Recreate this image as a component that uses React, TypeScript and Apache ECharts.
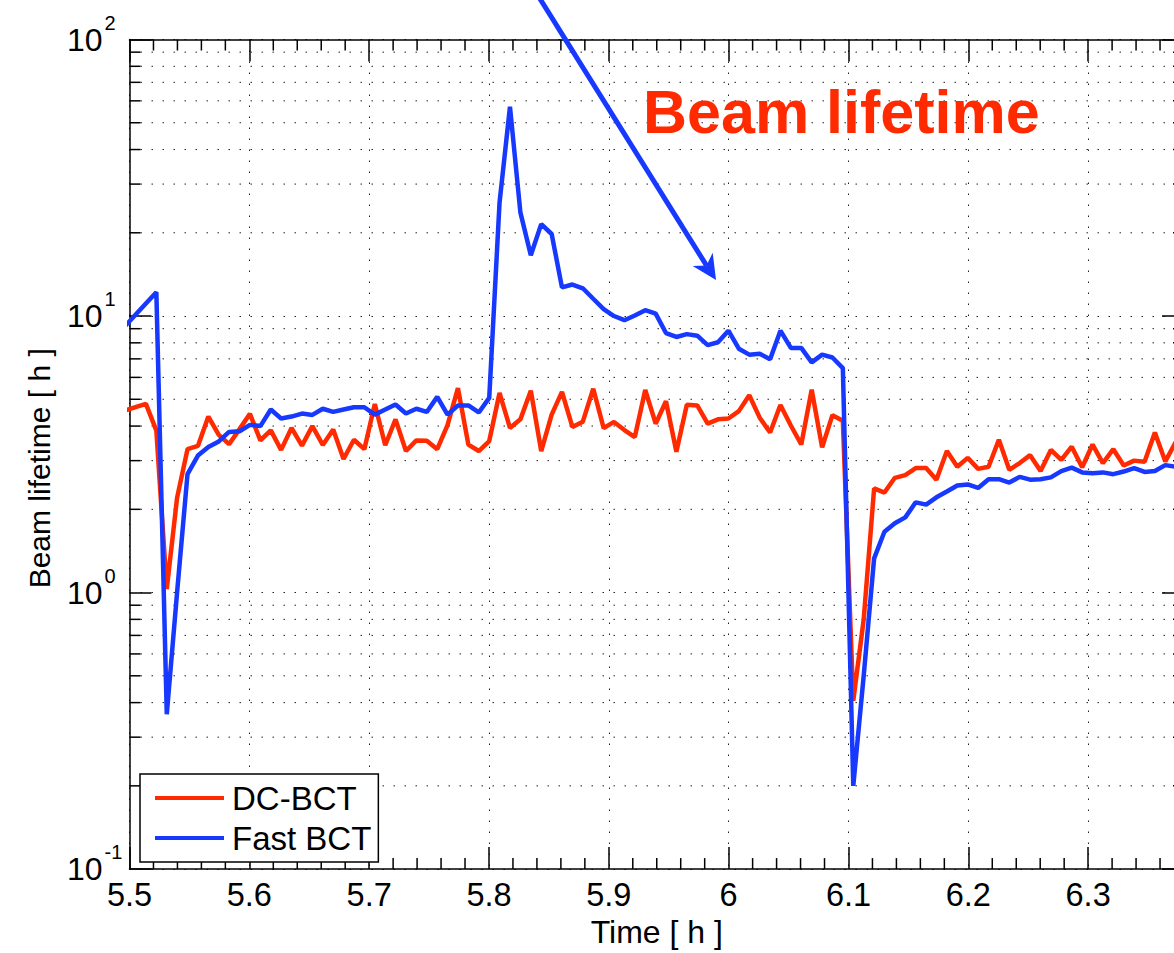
import React, { useEffect, useRef } from "react";
import * as echarts from "echarts";

// Sample times [h]
const times = [
  5.4963, 5.5050, 5.5137, 5.5224, 5.5311, 5.5397, 5.5484, 5.5571, 5.5658, 5.5745,
  5.5831, 5.5918, 5.6005, 5.6092, 5.6179, 5.6265, 5.6352, 5.6439, 5.6526, 5.6613,
  5.6700, 5.6786, 5.6873, 5.6960, 5.7047, 5.7134, 5.7220, 5.7307, 5.7394, 5.7481,
  5.7568, 5.7654, 5.7741, 5.7828, 5.7915, 5.8002, 5.8088, 5.8175, 5.8262, 5.8349,
  5.8436, 5.8523, 5.8609, 5.8696, 5.8783, 5.8870, 5.8957, 5.9043, 5.9130, 5.9217,
  5.9304, 5.9391, 5.9477, 5.9564, 5.9651, 5.9738, 5.9825, 5.9911, 5.9998, 6.0085,
  6.0172, 6.0259, 6.0346, 6.0432, 6.0519, 6.0606, 6.0693, 6.0780, 6.0866, 6.0953,
  6.1040, 6.1127, 6.1214, 6.1300, 6.1387, 6.1474, 6.1561, 6.1648, 6.1734, 6.1821,
  6.1908, 6.1995, 6.2082, 6.2169, 6.2255, 6.2342, 6.2429, 6.2516, 6.2603, 6.2689,
  6.2776, 6.2863, 6.2950, 6.3037, 6.3123, 6.3210, 6.3297, 6.3384, 6.3471, 6.3557,
  6.3644, 6.3731,
];

// DC-BCT beam lifetime [h]
const dcBct = [
  4.55, 4.68, 4.81, 3.85, 1.03, 2.2, 3.3, 3.39, 4.33, 3.72,
  3.44, 3.9, 4.43, 3.55, 3.86, 3.28, 3.94, 3.4, 4.0, 3.42,
  3.89, 3.04, 3.57, 3.3, 4.81, 3.41, 4.23, 3.25, 3.55, 3.54,
  3.3, 4.03, 5.49, 3.43, 3.25, 3.53, 5.27, 3.94, 4.23, 5.37,
  3.25, 4.4, 5.32, 3.97, 4.15, 5.46, 3.93, 4.14, 3.87, 3.65,
  5.4, 4.08, 4.92, 3.23, 4.78, 4.75, 4.08, 4.23, 4.26, 4.53,
  5.17, 4.29, 3.79, 4.77, 4.02, 3.43, 5.42, 3.35, 4.38, 4.18,
  0.406, 0.8, 2.38, 2.3, 2.6, 2.66, 2.82, 2.82, 2.56, 3.25,
  2.85, 3.07, 2.8, 2.85, 3.57, 2.78, 2.94, 3.14, 2.75, 3.28,
  3.02, 3.37, 2.84, 3.43, 2.94, 3.3, 2.88, 3.0, 2.97, 3.79,
  2.98, 3.5,
];

// Fast BCT beam lifetime [h]
const fastBct = [
  9.2, 10.1, 11.1, 12.2, 0.363, 1.0, 2.68, 3.13, 3.36, 3.52,
  3.81, 3.83, 4.04, 4.0, 4.59, 4.26, 4.33, 4.44, 4.39, 4.62,
  4.5, 4.59, 4.68, 4.68, 4.4, 4.59, 4.79, 4.44, 4.62, 4.5,
  5.1, 4.4, 4.75, 4.75, 4.48, 5.06, 25.7, 57.1, 23.7, 16.6,
  21.5, 19.8, 12.7, 13.0, 12.6, 11.55, 10.6, 10.0, 9.66, 10.05,
  10.5, 10.2, 8.68, 8.4, 8.6, 8.49, 7.85, 8.04, 8.85, 7.62,
  7.25, 7.3, 6.98, 8.85, 7.67, 7.67, 6.8, 7.25, 7.08, 6.48,
  0.2, 0.5, 1.33, 1.66, 1.78, 1.87, 2.12, 2.08, 2.21, 2.32,
  2.44, 2.46, 2.39, 2.57, 2.57, 2.5, 2.62, 2.56, 2.57, 2.61,
  2.75, 2.83, 2.72, 2.7, 2.72, 2.68, 2.74, 2.82, 2.73, 2.75,
  2.89, 2.85,
];

const seriesNames = ["DC-BCT", "Fast BCT"];

// Minor tick values
const xMinorTicks = [
  5.52, 5.54, 5.56, 5.58, 5.62, 5.64, 5.66, 5.68, 5.72, 5.74, 5.76, 5.78,
  5.82, 5.84, 5.86, 5.88, 5.92, 5.94, 5.96, 5.98, 6.02, 6.04, 6.06, 6.08,
  6.12, 6.14, 6.16, 6.18, 6.22, 6.24, 6.26, 6.28, 6.32, 6.34, 6.36,
];
const yMinorTicks = [
  0.2, 0.3, 0.4, 0.5, 0.6, 0.7, 0.8, 0.9,
  2, 3, 4, 5, 6, 7, 8, 9,
  20, 30, 40, 50, 60, 70, 80, 90,
];

const X_MIN = 5.5;
const X_MAX = 6.38;
const Y_MIN = 0.1;
const Y_MAX = 100;

const FONT = '"Liberation Sans", Arial, Helvetica, sans-serif';
const RED = "#ff2a00";
const BLUE = "#1638ff";
const GRID = "#222";

export default function App() {
  const ref = useRef<HTMLDivElement>(null);

  useEffect(() => {
    if (!ref.current) return;
    const chart = echarts.init(ref.current, null, { renderer: "svg" });

    const yLabel = (v: number) => {
      const e = Math.round(Math.log10(v));
      return `{b|10}{s|${e}}`;
    };

    const option: any = {
      animation: false,
      backgroundColor: "#fff",
      grid: { left: 129.5, top: 39.5, width: 1054.5, height: 835, containLabel: false },
      legend: {
        data: seriesNames,
        orient: "vertical",
        left: 140,
        top: 774,
        padding: [6, 7, 6, 15],
        itemGap: 4,
        itemWidth: 69,
        itemHeight: 4,
        icon: "rect",
        borderColor: "#000",
        borderWidth: 1.5,
        backgroundColor: "#fff",
        textStyle: { fontSize: 33, lineHeight: 36, fontFamily: FONT, color: "#000", padding: [0, 0, 0, 3] },
        z: 10,
      },
      xAxis: [
        {
          type: "value",
          min: X_MIN,
          max: X_MAX,
          interval: 0.1,
          position: "bottom",
          axisLine: { show: true, lineStyle: { color: "#000", width: 1.5 } },
          axisTick: { show: true, inside: true, length: 22, lineStyle: { color: "#000", width: 1.5 } },
          minorTick: { show: false },
          splitLine: { show: true, lineStyle: { color: GRID, width: 1, type: [1.5, 9.5] } },
          axisLabel: {
            show: true,
            margin: 9,
            fontSize: 32.5,
            fontFamily: FONT,
            color: "#000",
            showMaxLabel: false,
            formatter: (v: number) => {
              const r = Math.round(v * 10) / 10;
              if (Math.abs(r - v) > 1e-6) return "";
              return String(r);
            },
          },
          name: "Time [ h ]",
          nameLocation: "middle",
          nameGap: 45,
          nameTextStyle: { fontSize: 32, fontFamily: FONT, color: "#000" },
        },
        {
          type: "value",
          min: X_MIN,
          max: X_MAX,
          interval: 0.1,
          position: "top",
          axisLine: { show: true, lineStyle: { color: "#000", width: 1.5 } },
          axisTick: { show: true, inside: true, length: 22, lineStyle: { color: "#000", width: 1.5 } },
          splitLine: { show: false },
          axisLabel: { show: false },
        },
      ],
      yAxis: [
        {
          type: "log",
          logBase: 10,
          min: Y_MIN,
          max: Y_MAX,
          position: "left",
          axisLine: { show: true, lineStyle: { color: "#000", width: 1.5 } },
          axisTick: { show: true, inside: true, length: 22, lineStyle: { color: "#000", width: 1.5 } },
          minorTick: { show: false },
          splitLine: { show: true, lineStyle: { color: GRID, width: 1, type: [1.5, 9.5] } },
          axisLabel: {
            show: true,
            align: "left",
            margin: 62.5,
            formatter: yLabel,
            rich: {
              b: { fontSize: 32, fontFamily: FONT, color: "#000", lineHeight: 54 },
              s: { fontSize: 20, fontFamily: FONT, color: "#000", lineHeight: 20, verticalAlign: "top", padding: [0, 0, 0, 2] },
            },
          },
          name: "Beam lifetime [ h ]",
          nameLocation: "middle",
          nameGap: 75,
          nameTextStyle: { fontSize: 30, fontFamily: FONT, color: "#000", padding: [0, 28, 0, 0] },
        },
        {
          type: "log",
          logBase: 10,
          min: Y_MIN,
          max: Y_MAX,
          position: "right",
          axisLine: { show: true, lineStyle: { color: "#000", width: 1.5 } },
          axisTick: { show: true, inside: true, length: 22, lineStyle: { color: "#000", width: 1.5 } },
          splitLine: { show: false },
          axisLabel: { show: false },
        },
      ],
      series: [
        {
          name: "yMinor",
          type: "custom",
          xAxisIndex: 0,
          yAxisIndex: 0,
          silent: true,
          z: 1,
          data: yMinorTicks.map((v) => [X_MIN, v]),
          renderItem: (_p: any, api: any) => {
            const v = api.value(1);
            const a = api.coord([X_MIN, v]);
            const b = api.coord([X_MAX, v]);
            return {
              type: "group",
              children: [
                { type: "line", shape: { x1: a[0], y1: a[1], x2: b[0], y2: b[1] }, style: { stroke: GRID, lineWidth: 1, lineDash: [1.5, 9.5] } },
                { type: "line", shape: { x1: a[0], y1: a[1], x2: a[0] + 11, y2: a[1] }, style: { stroke: "#000", lineWidth: 1.5 } },
                { type: "line", shape: { x1: b[0] - 11, y1: b[1], x2: b[0], y2: b[1] }, style: { stroke: "#000", lineWidth: 1.5 } },
              ],
            };
          },
        },
        {
          name: "xMinor",
          type: "custom",
          xAxisIndex: 0,
          yAxisIndex: 0,
          silent: true,
          z: 1,
          data: xMinorTicks.map((v) => [v, Y_MIN]),
          renderItem: (_p: any, api: any) => {
            const v = api.value(0);
            const a = api.coord([v, Y_MIN]);
            const b = api.coord([v, Y_MAX]);
            return {
              type: "group",
              children: [
                { type: "line", shape: { x1: a[0], y1: a[1], x2: a[0], y2: a[1] - 11 }, style: { stroke: "#000", lineWidth: 1.5 } },
                { type: "line", shape: { x1: b[0], y1: b[1], x2: b[0], y2: b[1] + 11 }, style: { stroke: "#000", lineWidth: 1.5 } },
              ],
            };
          },
        },
        {
          name: seriesNames[0],
          type: "line",
          xAxisIndex: 0,
          yAxisIndex: 0,
          showSymbol: false,
          symbol: "none",
          clip: true,
          z: 3,
          data: times.map((t, i) => [t, dcBct[i]]),
          lineStyle: { color: RED, width: 4.5 },
          itemStyle: { color: RED },
        },
        {
          name: seriesNames[1],
          type: "line",
          xAxisIndex: 0,
          yAxisIndex: 0,
          showSymbol: false,
          symbol: "none",
          clip: true,
          z: 4,
          data: times.map((t, i) => [t, fastBct[i]]),
          lineStyle: { color: BLUE, width: 4.5 },
          itemStyle: { color: BLUE },
        },
      ],
      graphic: [
        {
          type: "text",
          x: 643,
          y: 112,
          z: 100,
          style: {
            text: "Beam lifetime",
            fill: RED,
            fontSize: 61,
            fontWeight: "bold",
            fontFamily: FONT,
            verticalAlign: "middle",
            align: "left",
          },
        },
        {
          type: "line",
          z: 100,
          shape: { x1: 539.5, y1: -2, x2: 706.5, y2: 265.5 },
          style: { stroke: BLUE, lineWidth: 5 },
        },
        {
          type: "polygon",
          z: 100,
          shape: { points: [[716, 280], [692.7, 266], [706.5, 265.5], [712.7, 252.7]] },
          style: { fill: BLUE },
        },
      ],
    };

    chart.setOption(option);
    return () => chart.dispose();
  }, []);

  return (
    <div style={{ position: "fixed", left: 0, top: 0, width: 1174, height: 953, overflow: "hidden", background: "#fff" }}>
      <div ref={ref} style={{ width: 1200, height: 953 }} />
    </div>
  );
}
